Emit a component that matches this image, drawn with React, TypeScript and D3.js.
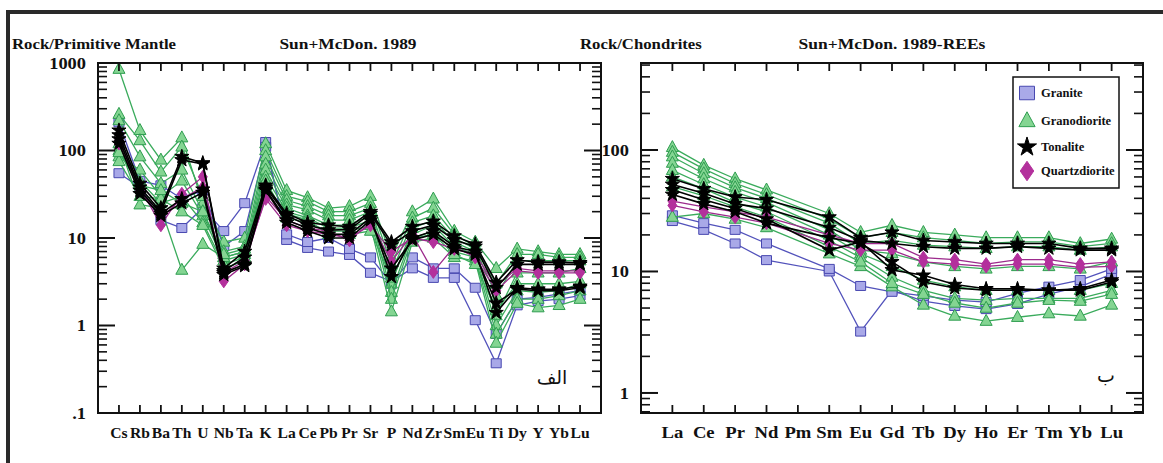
import React from 'react';
import * as d3 from 'd3';

// ---------- categories ----------
const PM_ELEMENTS = ['Cs','Rb','Ba','Th','U','Nb','Ta','K','La','Ce','Pb','Pr','Sr','P','Nd','Zr','Sm','Eu','Ti','Dy','Y','Yb','Lu'];
const REE_ELEMENTS = ['La','Ce','Pr','Nd','Pm','Sm','Eu','Gd','Tb','Dy','Ho','Er','Tm','Yb','Lu'];

const PM_TICK_VALUES = [1000, 100, 10, 1, 0.1];
const PM_TICK_LABELS = ['1000', '100', '10', '1', '.1'];
const REE_TICK_VALUES = [100, 10, 1];
const REE_TICK_LABELS = ['100', '10', '1'];

const GROUP_NAMES = ['Granite', 'Granodiorite', 'Tonalite', 'Quartzdiorite'];

// ---------- primitive-mantle normalised values (Cs ... Lu) ----------
const granitePM = [
  [55, 38, 16, 13, 22, 12, 25, 125, 9.5, 7.7, 7, 6.4, 4.0, 3.2, 4.5, 3.5, 3.5, 1.15, 0.37, 1.7, 1.9, 2.0, 2.2],
  [210, 45, 40, 28, 35, 8, 12, 110, 11, 9, 10, 7.5, 6, 3, 6, 4.5, 4.5, 2.7, 0.8, 2.0, 2.1, 2.3, 2.5],
];
const granodioritePM = [
  [850, 170, 78, 140, 25, 9, 10, 120, 35, 29, 22, 23, 30, 6, 20, 28, 12, 9, 4.5, 7.5, 7, 6.5, 6.5],
  [260, 130, 57, 110, 30, 7, 8, 100, 30, 26, 20, 20, 25, 5, 17, 22, 11, 8, 3, 6.5, 6.5, 6, 6],
  [220, 85, 42, 60, 20, 6, 7, 85, 27, 23, 18, 18, 22, 4, 15, 18, 10, 7.5, 2.2, 5.5, 5.5, 5.5, 5.5],
  [85, 60, 30, 45, 18, 5.5, 6.5, 70, 24, 21, 16, 16, 20, 3, 13, 16, 9, 7, 1.3, 4, 4, 4, 4.5],
  [100, 45, 25, 30, 15, 5, 6, 60, 22, 18, 14, 14, 18, 2.4, 11, 14, 8, 6.5, 1.0, 2.5, 2.4, 2.5, 3],
  [120, 24, 22, 4.3, 8.5, 6, 7, 50, 20, 17, 13, 13, 16, 2.0, 10, 12, 7, 6, 0.8, 2, 2, 2.2, 2.5],
  [75, 30, 28, 20, 14, 4.5, 5.5, 45, 17, 15, 12, 12, 14, 1.44, 9, 10, 6, 5.5, 0.63, 1.8, 1.6, 1.7, 2.0],
  [95, 40, 35, 25, 20, 6.5, 7.5, 40, 19, 16, 11, 11, 12, 3.5, 10, 11, 6.5, 5, 1.5, 3, 3, 3, 3.2],
];
const tonalitePM = [
  [170, 42, 22, 85, 72, 4.5, 7, 40, 19, 15, 14, 13.5, 20, 9, 13.5, 15.5, 10.5, 8.5, 3.1, 5.6, 5.3, 5.3, 5.2],
  [150, 38, 20, 78, 70, 4.2, 6, 38, 18, 14, 12.3, 12.5, 19, 8.3, 12, 14, 9.5, 8, 2.7, 5, 5, 5, 5],
  [135, 35, 19, 28, 36, 4.0, 5, 36, 16, 13, 11, 11, 17, 3.6, 10, 12, 8, 7, 1.4, 2.7, 2.6, 2.6, 2.8],
  [120, 32, 18, 25, 33, 3.8, 4.8, 35, 15, 12, 10, 10, 16, 4.5, 9.5, 11, 7.5, 6.5, 1.8, 2.6, 2.5, 2.5, 2.7],
];
const quartzdioritePM = [
  [130, 38, 14, 32, 50, 3.2, 5, 30, 16, 13, 12, 9.4, 15, 5.4, 11, 4.1, 8, 6, 2.5, 4.2, 4, 4, 4],
  [120, 35, 17, 28, 38, 4, 5.5, 28, 14, 12, 11, 10, 14, 7, 10, 9, 7.5, 6.5, 2.8, 4.5, 4.2, 4.2, 4.2],
];

// ---------- chondrite normalised REE values (La ... Lu, Pm not analysed) ----------
const graniteREE = [
  [26, 22, 17, 12.4, null, 10, 3.2, 7.0, 5.7, 5.2, 4.9, 5.4, 6.5, 7.5, 9.5],
  [29, 25, 22, 17, null, 10.5, 7.6, 6.8, 6.3, 5.8, 5.6, 6.6, 7.5, 8.5, 10.5],
];
const granodioriteREE = [
  [105, 75, 58, 47, null, 30, 21, 24, 21, 20, 19, 19, 19, 17, 18.5],
  [96, 70, 53, 43, null, 27, 19, 21, 19, 18, 17, 17.5, 17.5, 16, 17],
  [88, 64, 49, 40, null, 25, 17, 18, 16.5, 16, 15.5, 16, 16, 15, 16],
  [78, 58, 45, 37, null, 22, 15, 14, 12, 11, 10.5, 11, 11, 10.5, 12],
  [68, 52, 41, 34, null, 20, 14, 11, 8.5, 7.5, 7, 7, 7, 7, 8],
  [60, 48, 37, 31, null, 18, 13, 9, 7, 6, 5.8, 6, 6, 6, 7],
  [28, 30, 27, 23, null, 14, 11, 7.5, 5.3, 4.3, 3.9, 4.2, 4.5, 4.3, 5.3],
  [50, 42, 34, 28, null, 16, 12, 8, 6.5, 5.5, 5, 5.5, 5.8, 5.7, 6.5],
];
const tonaliteREE = [
  [58, 48, 41, 39, null, 28, 19, 21, 18, 17.5, 17, 17, 17, 15.5, 15.5],
  [52, 44, 36, 33, null, 23, 18, 17, 16, 15.5, 15.5, 16, 15.5, 15, 15],
  [47, 39, 33, 27, null, 15, 17.5, 10.3, 9.3, 7.8, 7.2, 7.2, 7, 7.2, 8.5],
  [43, 36, 31, 25, null, 19, 17, 12, 8.2, 7.3, 7, 7, 7, 7, 8.2],
];
const quartzdioriteREE = [
  [38, 34, 31, 28, null, 20, 17, 17, 13, 12.5, 11.5, 12.5, 12.5, 11.5, 12],
  [35, 31, 28, 25, null, 17, 15, 15, 12, 11.5, 11, 11.5, 11.5, 10.8, 11],
];

// ---------- styles ----------
type Style = { fill: string; stroke: string; line: string; shape: string };
const STYLES: Record<string, Style> = {
  Granite: { fill: '#a9a9e8', stroke: '#4848b0', line: '#5252bb', shape: 'square' },
  Granodiorite: { fill: '#84d592', stroke: '#2f9d50', line: '#3aab5c', shape: 'triangle' },
  Tonalite: { fill: '#000000', stroke: '#000000', line: '#000000', shape: 'star' },
  Quartzdiorite: { fill: '#b3309c', stroke: '#b3309c', line: '#9c2a8c', shape: 'diamond' },
};

const SERIF = '"Liberation Serif", "Times New Roman", serif';

function markerPath(shape: string, s = 1): string {
  if (shape === 'square') {
    const w = 10 * s, h = 9 * s;
    return `M${-w / 2},${-h / 2}h${w}v${h}h${-w}Z`;
  }
  if (shape === 'triangle') {
    const w = 12 * s, h = 11 * s;
    return `M0,${-h * 0.62}L${w / 2},${h * 0.38}L${-w / 2},${h * 0.38}Z`;
  }
  if (shape === 'diamond') {
    const w = 9 * s, h = 13 * s;
    return `M0,${-h / 2}L${w / 2},0L0,${h / 2}L${-w / 2},0Z`;
  }
  return d3.symbol(d3.symbolStar, 62 * s * s)() as string;
}

function logTicks(lo: number, hi: number) {
  const majors: number[] = [];
  const minors: number[] = [];
  for (let e = Math.floor(Math.log10(lo)); e <= Math.ceil(Math.log10(hi)); e++) {
    for (let k = 1; k <= 9; k++) {
      const v = +(k * Math.pow(10, e)).toPrecision(6);
      if (v >= lo * 0.999 && v <= hi * 1.001) (k === 1 ? majors : minors).push(v);
    }
  }
  return { majors, minors };
}

// bold serif text, slightly widened like the reference
function T({ x, y, children, anchor = 'start', size = 16, sx = 1.12, dy }:
  { x: number; y: number; children: React.ReactNode; anchor?: string; size?: number; sx?: number; dy?: string }) {
  return (
    <text transform={`translate(${x},${y}) scale(${sx},1)`} dy={dy} textAnchor={anchor}
      fontFamily={SERIF} fontWeight="bold" fontSize={size} fill="#111">{children}</text>
  );
}

type PanelProps = {
  x0: number; x1: number; y0: number; y1: number;
  elements: string[];
  yDomain: [number, number];
  tickValues: number[]; tickLabels: string[];
  labelSize: number; labelSx: number;
  series: { name: string; rows: (number | null)[][] }[];
};

function Panel({ x0, x1, y0, y1, elements, yDomain, tickValues, tickLabels, labelSize, labelSx, series }: PanelProps) {
  const n = elements.length;
  const x = d3.scaleLinear().domain([-1, n]).range([x0, x1]);
  const y = d3.scaleLog().domain(yDomain).range([y1, y0]);
  const { majors, minors } = logTicks(yDomain[0], yDomain[1]);
  const line = d3.line<[number, number]>().x(d => x(d[0])).y(d => y(d[1]));
  const idx = d3.range(n);

  return (
    <g>
      {series.map(s => {
        const st = STYLES[s.name];
        return (
          <g key={s.name}>
            {s.rows.map((row, ri) => {
              const pts = row.map((v, i) => [i, v] as [number, number | null])
                .filter(p => p[1] != null) as [number, number][];
              return (
                <g key={ri}>
                  <path d={line(pts) || ''} fill="none" stroke={st.line} strokeWidth={s.name === 'Tonalite' ? 1.6 : 1.3} />
                  {pts.map((p, pi) => (
                    <path key={pi} d={markerPath(st.shape)} transform={`translate(${x(p[0])},${y(p[1])})`}
                      fill={st.fill} stroke={st.stroke} strokeWidth={1} />
                  ))}
                </g>
              );
            })}
          </g>
        );
      })}
      <rect x={x0} y={y0} width={x1 - x0} height={y1 - y0} fill="none" stroke="#111" strokeWidth={2} />
      {majors.map(v => (
        <g key={'M' + v}>
          <line x1={x0} x2={x0 + 17} y1={y(v)} y2={y(v)} stroke="#111" strokeWidth={2} />
          <line x1={x1} x2={x1 - 17} y1={y(v)} y2={y(v)} stroke="#111" strokeWidth={2} />
        </g>
      ))}
      {minors.map(v => (
        <g key={'m' + v}>
          <line x1={x0} x2={x0 + 9} y1={y(v)} y2={y(v)} stroke="#111" strokeWidth={1.6} />
          <line x1={x1} x2={x1 - 9} y1={y(v)} y2={y(v)} stroke="#111" strokeWidth={1.6} />
        </g>
      ))}
      {tickValues.map((v, i) => (
        <T key={'t' + v} x={x0 - 12} y={y(v)} dy="0.35em" anchor="end" size={16} sx={1.15}>{tickLabels[i]}</T>
      ))}
      {idx.map(i => (
        <g key={'x' + i}>
          <line x1={x(i)} x2={x(i)} y1={y0} y2={y0 + 8} stroke="#111" strokeWidth={1.8} />
          <line x1={x(i)} x2={x(i)} y1={y1} y2={y1 - 8} stroke="#111" strokeWidth={1.8} />
          <T x={x(i)} y={y1 + 25} anchor="middle" size={labelSize} sx={labelSx}>{elements[i]}</T>
        </g>
      ))}
    </g>
  );
}

export default function App() {
  const pmSeries = [
    { name: 'Granite', rows: granitePM },
    { name: 'Granodiorite', rows: granodioritePM },
    { name: 'Quartzdiorite', rows: quartzdioritePM },
    { name: 'Tonalite', rows: tonalitePM },
  ];
  const reeSeries = [
    { name: 'Granite', rows: graniteREE },
    { name: 'Granodiorite', rows: granodioriteREE },
    { name: 'Quartzdiorite', rows: quartzdioriteREE },
    { name: 'Tonalite', rows: tonaliteREE },
  ];
  const legendY = [93, 121, 147, 171];
  const legendScale: Record<string, number> = { Granite: 1.5, Granodiorite: 1.35, Tonalite: 1.35, Quartzdiorite: 1.5 };

  return (
    <svg width={1163} height={463} style={{ position: 'absolute', left: 0, top: 0, background: '#fff' }}>
      <rect x={0} y={0} width={1163} height={463} fill="#fff" />
      <line x1={6} x2={1163} y1={12} y2={12} stroke="#2a2a2a" strokeWidth={4} />
      <line x1={8} x2={8} y1={10} y2={463} stroke="#2a2a2a" strokeWidth={4} />

      <T x={12} y={49} size={15.5} sx={1.08}>Rock/Primitive Mantle</T>
      <T x={348} y={49} anchor="middle" size={15.5} sx={1.12}>Sun+McDon. 1989</T>
      <T x={580} y={49} size={15.5} sx={1.08}>Rock/Chondrites</T>
      <T x={892} y={49} anchor="middle" size={15.5} sx={1.13}>Sun+McDon. 1989-REEs</T>

      <Panel x0={98} x1={601} y0={63} y1={413} elements={PM_ELEMENTS} yDomain={[0.1, 1000]}
        tickValues={PM_TICK_VALUES} tickLabels={PM_TICK_LABELS} labelSize={15} labelSx={1.04} series={pmSeries} />
      <Panel x0={641} x1={1143} y0={63} y1={413} elements={REE_ELEMENTS} yDomain={[0.684, 520]}
        tickValues={REE_TICK_VALUES} tickLabels={REE_TICK_LABELS} labelSize={16.5} labelSx={1.13} series={reeSeries} />

      <text x={552} y={384} textAnchor="middle" fontFamily='"DejaVu Sans", sans-serif' fontSize={19} fill="#111">الف</text>
      <text x={1106} y={382} textAnchor="middle" fontFamily='"DejaVu Sans", sans-serif' fontSize={19} fill="#111">ب</text>

      <rect x={1013} y={77} width={106} height={111} fill="#fff" stroke="#111" strokeWidth={1.5} />
      {GROUP_NAMES.map((g, i) => {
        const st = STYLES[g];
        return (
          <g key={g}>
            <path d={markerPath(st.shape, legendScale[g])} transform={`translate(1027,${legendY[i]})`}
              fill={st.fill} stroke={st.stroke} strokeWidth={1} />
            <T x={1041} y={legendY[i]} dy="0.35em" size={12.5} sx={1.0}>{g}</T>
          </g>
        );
      })}
    </svg>
  );
}
